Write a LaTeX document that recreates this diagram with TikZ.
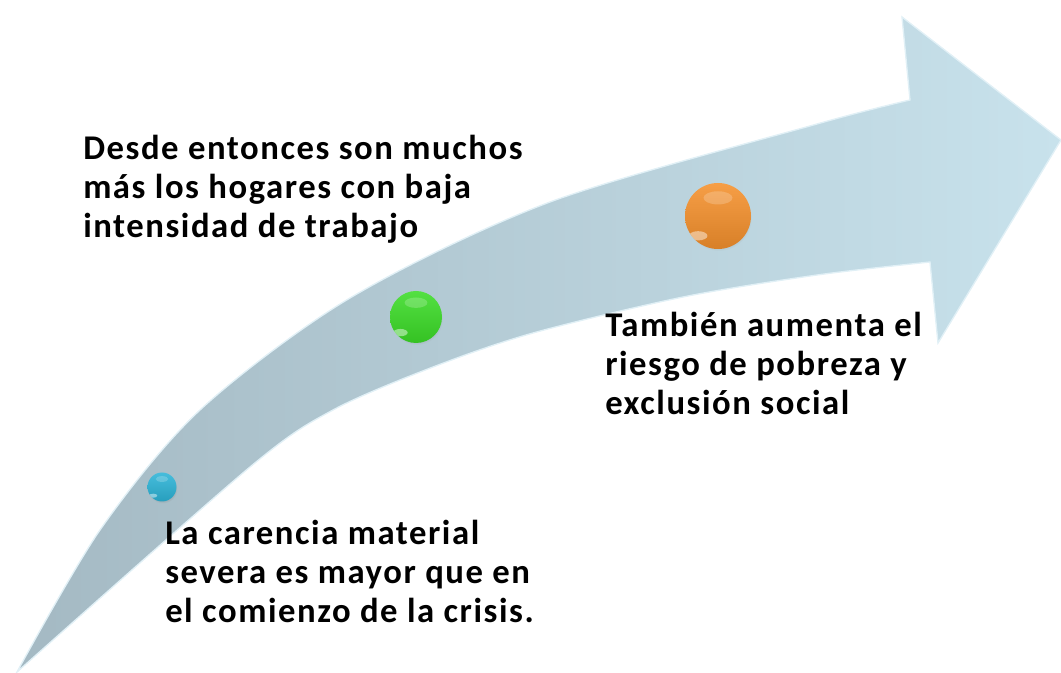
\documentclass[tikz,border=0pt]{standalone}
\usepackage{fontspec}
\setmainfont{Carlito}
\usetikzlibrary{shadows,calc}
\definecolor{arrowlight}{RGB}{200,226,236}
\definecolor{arrowdark}{RGB}{164,185,195}
\definecolor{arrowedge}{RGB}{225,240,246}
\definecolor{ballblue}{RGB}{45,180,215}
\definecolor{ballgreen}{RGB}{60,220,40}
\definecolor{ballorange}{RGB}{245,145,45}
\tikzset{
	arrowbody/.style={left color=arrowdark, right color=arrowlight, draw=arrowedge, line width=1pt, line join=miter},
	ballnode/.style={circle, inner sep=0pt, top color=#1!88!white, bottom color=#1!88!black,
		circular drop shadow={opacity=0.2, shadow xshift=0.6pt, shadow yshift=-1.5pt, shadow scale=1},
		path picture={
			\fill[white, opacity=0.45, rotate=45] ($(path picture bounding box.center)!0.6!(path picture bounding box.south west)$) ellipse [x radius=0.14*\pgfkeysvalueof{/pgf/minimum width}, y radius=0.07*\pgfkeysvalueof{/pgf/minimum width}];
			\fill[white, opacity=0.2] ($(path picture bounding box.center)!0.55!(path picture bounding box.north)$) ellipse [x radius=0.22*\pgfkeysvalueof{/pgf/minimum width}, y radius=0.1*\pgfkeysvalueof{/pgf/minimum width}];
		}},
	note/.style={anchor=north west, inner sep=0pt, align=left, font=\fontsize{26}{29.3}\selectfont\bfseries\addfontfeature{LetterSpace=4.5}}
}

\begin{document}
\begin{tikzpicture}[x=0.75pt, y=-0.75pt]
		\useasboundingbox (0,0) rectangle (1061,673);

		\shadedraw[arrowbody] (17,672)
			-- plot[smooth] coordinates {(17,672) (100,530) (200,410) (350,298) (550,202) (817,124) (910,100)}
			-- (902,17) -- (1061,140) -- (938,343) -- (930,262)
			-- plot[smooth] coordinates {(930,262) (817,275) (683,297) (533,333) (433,367) (333,410) (250,467) (17,672)}
			-- cycle;

		\node[ballnode=ballblue, minimum size=21.75pt] (ball1) at (162,487) {};
		\node[ballnode=ballgreen, minimum size=39pt] (ball2) at (416,317) {};
		\node[ballnode=ballorange, minimum size=49.5pt] (ball3) at (718,216) {};

		\node[note] (text1) at (165,520) {La carencia material\\severa es mayor que en\\el comienzo de la crisis.};
		\node[note] (text2) at (83,135) {Desde entonces son muchos\\más los hogares con baja\\intensidad de trabajo};
		\node[note] (text3) at (605,312) {También aumenta el\\riesgo de pobreza y\\exclusión social};
\end{tikzpicture}
\end{document}
